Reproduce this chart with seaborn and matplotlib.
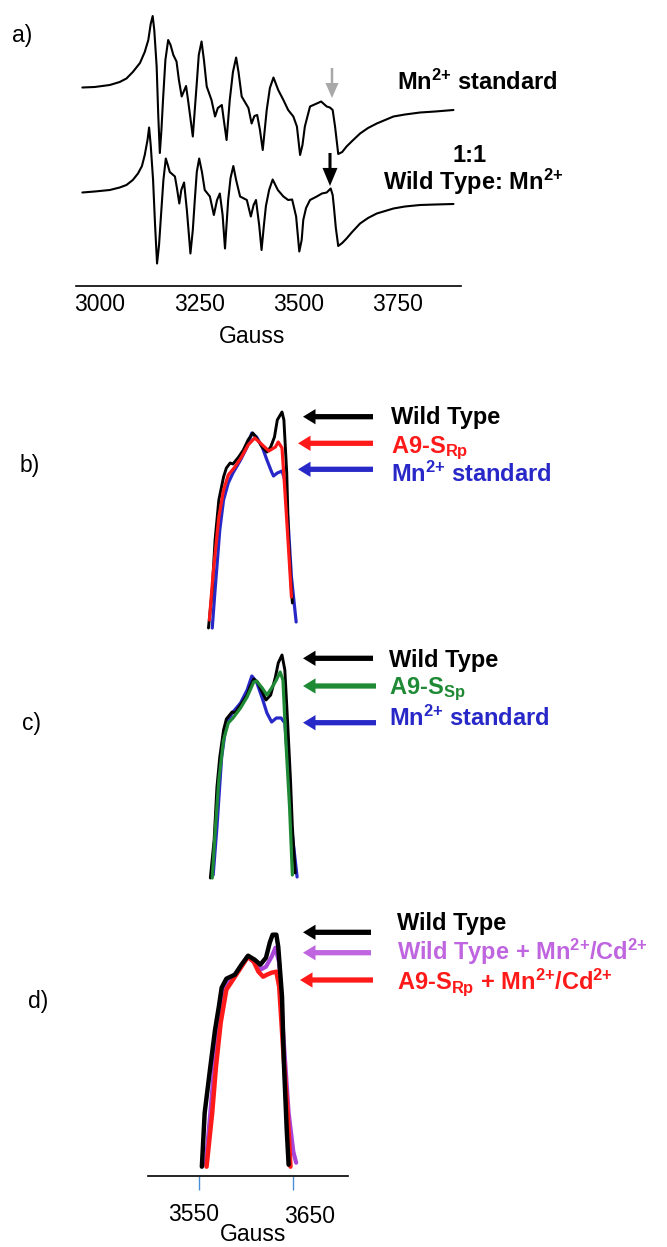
import numpy as np
import pandas as pd
import matplotlib
matplotlib.use("Agg")
import matplotlib.pyplot as plt
import matplotlib.transforms as mtransforms
import seaborn as sns

# ---------------- data (Gauss, intensity a.u.) ----------------
# panel a) full spectra
mn_std_gauss = [2956, 2987, 3025, 3050, 3067, 3083, 3101, 3113, 3122, 3128,
                3133, 3137, 3143, 3147, 3151, 3155, 3159, 3165, 3172, 3178,
                3185, 3193, 3199, 3206, 3217, 3222, 3234, 3238, 3244, 3249,
                3256, 3262, 3269, 3281, 3290, 3297, 3307, 3312, 3319, 3327,
                3335, 3343, 3349, 3357, 3374, 3382, 3389, 3396, 3403, 3410,
                3420, 3428, 3437, 3449, 3462, 3474, 3487, 3496, 3504, 3510,
                3516, 3529, 3546, 3557, 3571, 3579, 3586, 3592, 3600, 3610,
                3621, 3635, 3655, 3675, 3697, 3739, 3768, 3806, 3844, 3890]
mn_std_signal = [0.01, 0.02, 0.06, 0.12, 0.19, 0.32, 0.50, 0.72, 0.96, 1.28,
                 1.44, 1.16, 0.43, -0.54, -1.30, -0.84, -0.24, 0.56, 0.96, 0.86,
                 0.66, 0.53, 0.16, -0.17, 0.04, -0.24, -0.97, -0.54, 0.10, 0.66,
                 0.93, 0.56, 0.03, -0.24, -0.57, -0.40, -0.34, -0.64, -1.04, -0.24,
                 0.32, 0.61, 0.32, -0.17, -0.40, -0.71, -0.56, -0.54, -0.84, -1.24,
                 -0.44, 0.00, 0.21, -0.04, -0.24, -0.44, -0.57, -0.77, -1.34, -1.14,
                 -0.77, -0.37, -0.31, -0.27, -0.37, -0.39, -0.44, -0.77, -1.32, -1.28,
                 -1.17, -1.06, -0.91, -0.80, -0.71, -0.57, -0.53, -0.49, -0.47, -0.44]

wt_mix_gauss = [2956, 2987, 3025, 3050, 3067, 3083, 3096, 3106, 3113, 3120,
                3124, 3128, 3134, 3139, 3144, 3149, 3154, 3160, 3166, 3171,
                3176, 3189, 3194, 3200, 3205, 3212, 3219, 3228, 3234, 3239,
                3244, 3250, 3257, 3264, 3277, 3287, 3295, 3302, 3309, 3315,
                3323, 3329, 3336, 3343, 3353, 3370, 3380, 3387, 3393, 3401,
                3407, 3413, 3418, 3426, 3435, 3448, 3462, 3474, 3484, 3494,
                3502, 3508, 3512, 3519, 3529, 3546, 3559, 3571, 3581, 3586,
                3589, 3594, 3600, 3610, 3621, 3635, 3655, 3675, 3697, 3739,
                3768, 3806, 3844, 3890]
wt_mix_signal = [-0.01, 0.01, 0.04, 0.09, 0.14, 0.24, 0.37, 0.52, 0.74, 1.04,
                 1.29, 0.94, 0.24, -0.66, -1.43, -1.06, -0.46, 0.24, 0.67, 0.54,
                 0.40, 0.31, 0.08, -0.23, 0.04, 0.19, -0.36, -1.23, -0.76, -0.16,
                 0.40, 0.67, 0.40, 0.04, -0.09, -0.46, -0.16, -0.03, -0.46, -1.13,
                 -0.16, 0.28, 0.52, 0.24, -0.09, -0.16, -0.49, -0.26, -0.16, -0.66,
                 -1.16, -0.66, -0.28, 0.04, 0.25, 0.04, -0.09, -0.16, -0.15, -0.49,
                 -1.19, -0.96, -0.56, -0.32, -0.16, -0.09, -0.03, -0.01, 0.07, -0.06,
                 -0.29, -0.72, -1.08, -1.02, -0.93, -0.80, -0.63, -0.52, -0.43, -0.33,
                 -0.29, -0.26, -0.25, -0.24]

# panel b) zoom on the 3600 G line
b_wt_gauss = [3560, 3564, 3567, 3571, 3576, 3579, 3583, 3586, 3592, 3597, 3602, 3607,
              3611, 3617, 3622, 3626, 3630, 3633, 3638, 3640, 3643, 3645, 3648, 3649]
b_wt_signal = [0.02, 0.40, 0.90, 1.30, 1.53, 1.62, 1.67, 1.66, 1.73, 1.80, 1.90, 1.97,
               1.92, 1.83, 1.78, 1.83, 1.93, 2.10, 2.18, 2.10, 1.57, 0.90, 0.40, 0.27]
b_rp_gauss = [3561, 3565, 3571, 3576, 3581, 3588, 3595, 3602, 3609, 3615, 3624, 3631,
              3634, 3638, 3641, 3645, 3648]
b_rp_signal = [0.10, 0.57, 1.13, 1.40, 1.55, 1.63, 1.73, 1.85, 1.92, 1.87, 1.79, 1.83,
               1.88, 1.82, 1.40, 0.80, 0.33]
b_mn_gauss = [3564, 3567, 3572, 3576, 3581, 3586, 3594, 3601, 3606, 3611, 3617, 3622,
              3627, 3629, 3633, 3638, 3641, 3645, 3648, 3653]
b_mn_signal = [0.02, 0.40, 1.00, 1.30, 1.47, 1.57, 1.70, 1.83, 1.97, 1.93, 1.83, 1.70,
               1.58, 1.54, 1.57, 1.59, 1.50, 1.00, 0.53, 0.08]

# panel c)
c_wt_gauss = [3562, 3566, 3569, 3572, 3576, 3579, 3585, 3588, 3594, 3601, 3604, 3608,
              3612, 3617, 3621, 3626, 3631, 3634, 3638, 3641, 3644, 3647, 3649, 3652]
c_wt_signal = [0.02, 0.40, 0.93, 1.23, 1.50, 1.61, 1.68, 1.67, 1.75, 1.85, 1.93, 2.01,
               1.98, 1.88, 1.80, 1.85, 2.03, 2.17, 2.25, 2.10, 1.57, 1.00, 0.53, 0.07]
c_sp_gauss = [3564, 3567, 3571, 3576, 3581, 3586, 3594, 3601, 3608, 3611, 3617, 3622,
              3627, 3632, 3636, 3639, 3642, 3646, 3649]
c_sp_signal = [0.02, 0.47, 1.00, 1.40, 1.57, 1.62, 1.72, 1.83, 1.98, 1.99, 1.92, 1.85,
               1.92, 2.00, 2.08, 2.00, 1.40, 0.73, 0.05]
c_mn_gauss = [3565, 3569, 3574, 3579, 3586, 3594, 3601, 3606, 3611, 3617, 3622, 3627,
              3632, 3637, 3641, 3645, 3648, 3654]
c_mn_signal = [0.05, 0.53, 1.23, 1.57, 1.68, 1.77, 1.90, 2.04, 1.98, 1.82, 1.67, 1.58,
               1.62, 1.62, 1.57, 1.07, 0.53, 0.03]

# panel d) with Cd2+
d_wt_gauss = [3553, 3556, 3562, 3567, 3571, 3574, 3579, 3588, 3595, 3602, 3609,
              3615, 3621, 3625, 3628, 3632, 3634, 3638, 3640, 3643, 3645]
d_wt_signal = [0.09, 0.63, 1.09, 1.46, 1.69, 1.88, 1.97, 2.01, 2.11, 2.20, 2.16,
               2.11, 2.18, 2.33, 2.41, 2.41, 2.29, 1.79, 1.13, 0.46, 0.11]
d_wtcd_gauss = [3557, 3562, 3567, 3572, 3578, 3585, 3594, 3601, 3608, 3615, 3621,
                3627, 3631, 3635, 3639, 3645, 3650, 3653]
d_wtcd_signal = [0.11, 0.63, 1.19, 1.63, 1.89, 1.98, 2.08, 2.19, 2.14, 2.06, 2.09,
                 2.19, 2.28, 2.13, 1.46, 0.63, 0.24, 0.13]
d_rpcd_gauss = [3558, 3564, 3568, 3573, 3579, 3586, 3595, 3602, 3608, 3613, 3618,
                3622, 3627, 3632, 3635, 3639, 3644, 3647]
d_rpcd_signal = [0.09, 0.63, 1.09, 1.53, 1.86, 1.96, 2.09, 2.19, 2.14, 2.04, 1.99,
                 2.01, 2.03, 2.04, 1.89, 1.29, 0.63, 0.09]

a_ticks = [3000, 3250, 3500, 3750]
d_ticks = [3550, 3650]

BLACK = "black"
RED = "#FF1A1A"
BLUE = "#2828C8"
GREEN = "#1F8A35"
PURPLE = "#A845D8"
PURPLE_TXT = "#C065E0"
GREY = "#A8A8A8"

MN = r"Mn$^{\mathbf{2{+}}}$"
CD = r"Cd$^{\mathbf{2{+}}}$"

# ---------------- figure ----------------
sns.set_style("white")
plt.rcParams["font.family"] = ["Liberation Sans", "DejaVu Sans"]
plt.rcParams["mathtext.fontset"] = "custom"
plt.rcParams["mathtext.rm"] = "Liberation Sans"
plt.rcParams["mathtext.bf"] = "Liberation Sans:bold"
plt.rcParams["mathtext.it"] = "Liberation Sans:italic"
plt.rcParams["text.color"] = "black"
plt.rcParams["axes.labelcolor"] = "black"
plt.rcParams["xtick.color"] = "black"

W, H = 667, 1247
fig = plt.figure(figsize=(W / 100, H / 100), dpi=100)


def add_ax(left, right, top, bottom):
    return fig.add_axes([left / W, 1 - bottom / H, (right - left) / W, (bottom - top) / H])


def fp(x, y):
    return (x, H - y)


def label(x, y, s, color=BLACK, size=17, weight="bold", ha="left", va="baseline"):
    fig.text(x / W, 1 - y / H, s, color=color, fontsize=size, fontweight=weight,
             ha=ha, va=va)


def arrow(x0, x1, y0, y1, color, tail=0.38, hl=0.9, hw=1.1):
    fig.add_artist(plt.Annotation(
        "", xy=fp(x1, y1), xytext=fp(x0, y0), xycoords="figure pixels",
        textcoords="figure pixels",
        arrowprops=dict(arrowstyle=f"simple,head_length={hl},head_width={hw},tail_width={tail}",
                        mutation_scale=10, color=color, lw=0, shrinkA=0, shrinkB=0)))


def trace(ax, xs, ys, color, lw, offset=0.0):
    df = pd.DataFrame({"gauss": xs, "signal": np.array(ys) + offset})
    sns.lineplot(data=df, x="gauss", y="signal", ax=ax, color=color, lw=lw,
                 sort=False, estimator=None, solid_joinstyle="round")


# ---- panel a ----
ax_a = add_ax(76, 461, 10, 286)
trace(ax_a, mn_std_gauss, mn_std_signal, BLACK, 1.5, offset=3.96)
trace(ax_a, wt_mix_gauss, wt_mix_signal, BLACK, 1.5, offset=1.88)
ax_a.set_xlim(2940, 3909)
ax_a.set_ylim(0, 5.52)
sns.despine(ax=ax_a, left=True)
ax_a.spines["bottom"].set_linewidth(1.2)
ax_a.spines["bottom"].set_color(BLACK)
ax_a.set_yticks([])
ax_a.set_xticks(a_ticks)
ax_a.tick_params(axis="x", length=0, pad=5, labelsize=16.5, labelcolor=BLACK)
ax_a.set_ylabel("")
ax_a.set_xlabel("Gauss", fontsize=16.5, color=BLACK)
ax_a.xaxis.set_label_coords(0.457, -0.14)

label(12, 42, "a)", weight="normal", size=16.5)
label(397, 90, MN + " standard")
label(470, 162, "1:1", ha="center")
label(383, 190, "Wild Type: " + MN)
arrow(332, 332, 68, 98, GREY, tail=0.18, hl=1.08, hw=0.94)
arrow(330, 330, 153, 186, BLACK, tail=0.22, hl=1.3, hw=1.08)

# ---- panels b, c, d share the Gauss scale ----
xl = (3496.2, 3708.3)

ax_b = add_ax(148.3, 348.3, 400, 630)
trace(ax_b, b_mn_gauss, b_mn_signal, BLUE, 2.3)
trace(ax_b, b_wt_gauss, b_wt_signal, BLACK, 2.1)
trace(ax_b, b_rp_gauss, b_rp_signal, RED, 2.3)
ax_b.set_xlim(*xl)
ax_b.set_ylim(0, 2.3)
ax_b.set_axis_off()

label(20, 472, "b)", weight="normal", size=16.5)
label(391, 424, "Wild Type")
label(391, 453, r"A9-S$_{\mathbf{Rp}}$", color=RED)
label(391, 482, MN + " standard", color=BLUE)
arrow(373, 303, 416.7, 416.7, BLACK)
arrow(373, 298, 443.3, 443.3, RED)
arrow(373, 298, 469.3, 469.3, BLUE)

ax_c = add_ax(148.3, 348.3, 640, 880)
trace(ax_c, c_mn_gauss, c_mn_signal, BLUE, 2.3)
trace(ax_c, c_wt_gauss, c_wt_signal, BLACK, 2.1)
trace(ax_c, c_sp_gauss, c_sp_signal, GREEN, 2.3)
ax_c.set_xlim(*xl)
ax_c.set_ylim(0, 2.4)
ax_c.set_axis_off()

label(22, 730, "c)", weight="normal", size=16.5)
label(389, 667, "Wild Type")
label(389, 694, r"A9-S$_{\mathbf{Sp}}$", color=GREEN)
label(389, 726, MN + " standard", color=BLUE)
arrow(373, 303, 658.3, 658.3, BLACK)
arrow(376, 303, 686, 686, GREEN)
arrow(376, 303, 722.7, 722.7, BLUE)

ax_d = add_ax(148.3, 348.3, 900, 1175.7)
trace(ax_d, d_wtcd_gauss, d_wtcd_signal, PURPLE, 3.0)
trace(ax_d, d_rpcd_gauss, d_rpcd_signal, RED, 3.2)
trace(ax_d, d_wt_gauss, d_wt_signal, BLACK, 3.2)
ax_d.set_xlim(*xl)
ax_d.set_ylim(0, 2.757)
sns.despine(ax=ax_d, left=True)
ax_d.spines["bottom"].set_linewidth(1.2)
ax_d.spines["bottom"].set_color(BLACK)
ax_d.set_yticks([])
ax_d.set_xticks(d_ticks)
ax_d.tick_params(axis="x", direction="out", length=10, width=1, color="#4A90D9",
                 pad=10, labelsize=16.5, labelcolor=BLACK, bottom=True)
ax_d.set_ylabel("")
ax_d.set_xlabel("Gauss", fontsize=16.5, color=BLACK)
ax_d.xaxis.set_label_coords(0.522, -0.17)
for lab, (dx, dy) in zip(ax_d.get_xticklabels(), [(-5, 0), (16, -2)]):
    lab.set_transform(lab.get_transform() +
                      mtransforms.ScaledTranslation(dx / 100, dy / 100, fig.dpi_scale_trans))

label(28, 1008, "d)", weight="normal", size=16.5)
label(397, 930, "Wild Type")
label(397, 960, "Wild Type + " + MN + "/" + CD, color=PURPLE_TXT)
label(397, 989, r"A9-S$_{\mathbf{Rp}}$ + " + MN + "/" + CD, color=RED)
arrow(371, 303, 932.3, 932.3, BLACK)
arrow(371, 303, 952.7, 952.7, PURPLE_TXT)
arrow(373, 300, 980, 980, RED)

fig.savefig("out.png", dpi=100, facecolor="white")
